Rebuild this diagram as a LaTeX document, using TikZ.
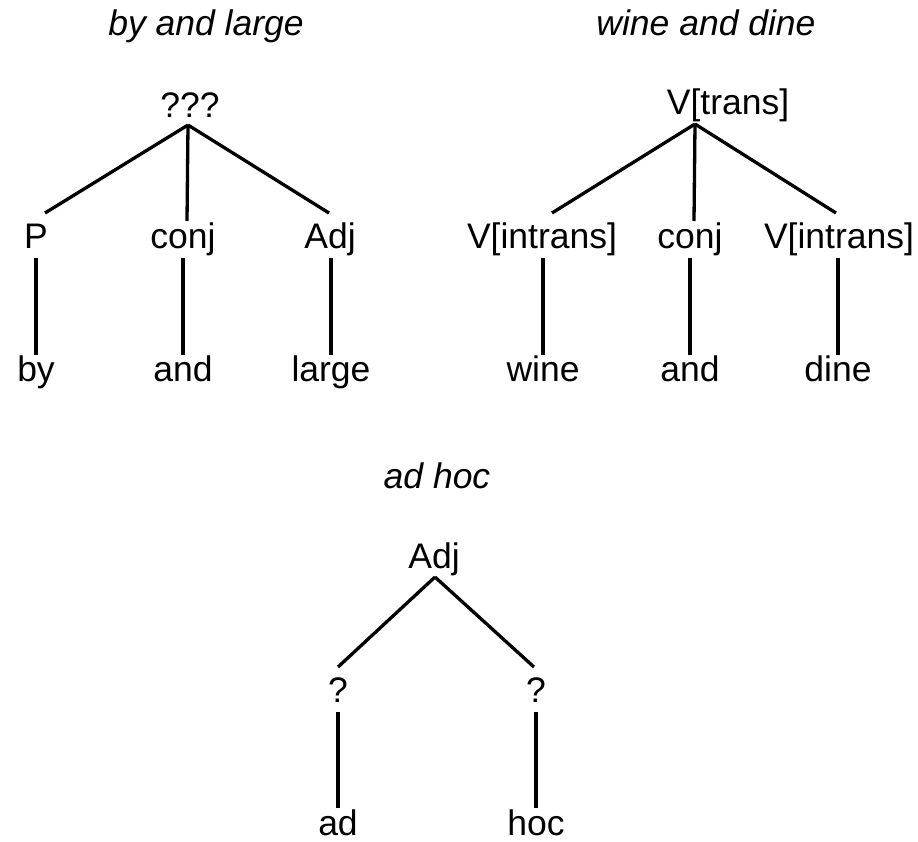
\documentclass[tikz,border=0pt]{standalone}
\usepackage{fontspec}
\setmainfont{Liberation Sans}
\begin{document}
\begin{tikzpicture}[x=1pt,y=-1pt,
  lab/.style={anchor=base,inner sep=0pt,font=\fontsize{35.5}{42}\selectfont},
  ttl/.style={lab,font=\fontsize{35.5}{42}\selectfont\itshape},
  edge/.style={line width=3.3pt}]
\path[use as bounding box] (0,0) rectangle (918,841);

% --- tree: by and large ---
\node[ttl] (t1) at (206,35) {by and large};
\node[lab] (r1) at (190,117) {???};
\node[lab] (p1) at (36,248) {P};
\node[lab] (c1) at (183,248) {conj};
\node[lab] (a1) at (330,248) {Adj};
\node[lab] (w11) at (36,381) {by};
\node[lab] (w12) at (183,381) {and};
\node[lab] (w13) at (331,381) {large};
\draw[edge] ([shift={(-2,8)}]r1.base) -- ([shift={(9,-35)}]p1.base);
\draw[edge] ([shift={(-2,8)}]r1.base) -- ([shift={(4,-27)}]c1.base);
\draw[edge] ([shift={(-2,8)}]r1.base) -- ([shift={(-1,-35)}]a1.base);
\draw[edge] ([shift={(0,10)}]p1.base) -- ([shift={(0,-26)}]w11.base);
\draw[edge] ([shift={(0,10)}]c1.base) -- ([shift={(0,-26)}]w12.base);
\draw[edge] ([shift={(1,10)}]a1.base) -- ([shift={(0,-26)}]w13.base);

% --- tree: wine and dine ---
\node[ttl] (t2) at (706,35) {wine and dine};
\node[lab] (r2) at (728,114) {V[trans]};
\node[lab] (v21) at (542,248) {V[intrans]};
\node[lab] (c2) at (690,248) {conj};
\node[lab] (v22) at (839,248) {V[intrans]};
\node[lab] (w21) at (543,381) {wine};
\node[lab] (w22) at (690,381) {and};
\node[lab] (w23) at (838,381) {dine};
\draw[edge] ([shift={(-33,10)}]r2.base) -- ([shift={(10,-35)}]v21.base);
\draw[edge] ([shift={(-33,10)}]r2.base) -- ([shift={(4,-27)}]c2.base);
\draw[edge] ([shift={(-33,10)}]r2.base) -- ([shift={(-3,-35)}]v22.base);
\draw[edge] ([shift={(1,10)}]v21.base) -- ([shift={(0,-26)}]w21.base);
\draw[edge] ([shift={(0,10)}]c2.base) -- ([shift={(0,-26)}]w22.base);
\draw[edge] ([shift={(-1,10)}]v22.base) -- ([shift={(0,-26)}]w23.base);

% --- tree: ad hoc ---
\node[ttl] (t3) at (437,488) {ad hoc};
\node[lab] (r3) at (434,568) {Adj};
\node[lab] (q31) at (338,702) {?};
\node[lab] (q32) at (536,702) {?};
\node[lab] (w31) at (338,835) {ad};
\node[lab] (w32) at (536,835) {hoc};
\draw[edge] ([shift={(1,9)}]r3.base) -- ([shift={(0,-35)}]q31.base);
\draw[edge] ([shift={(1,9)}]r3.base) -- ([shift={(-2,-35)}]q32.base);
\draw[edge] ([shift={(0,10)}]q31.base) -- ([shift={(0,-27)}]w31.base);
\draw[edge] ([shift={(0,10)}]q32.base) -- ([shift={(0,-27)}]w32.base);
\end{tikzpicture}
\end{document}
